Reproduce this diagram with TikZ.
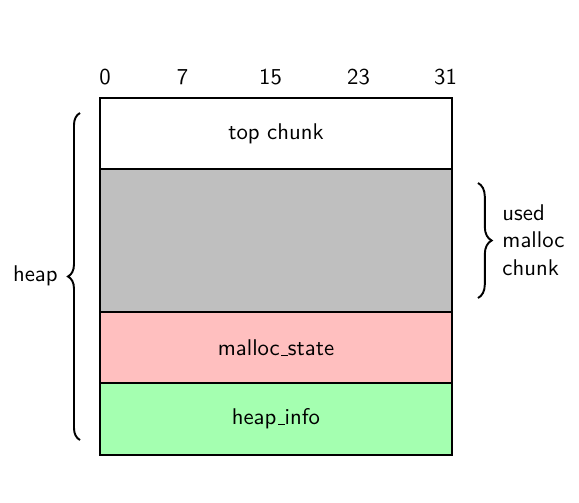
\documentclass[tikz,border=0pt]{standalone}
\usetikzlibrary{decorations.pathreplacing}
\definecolor{usedgray}{RGB}{191,191,191}
\definecolor{statepink}{RGB}{255,191,191}
\definecolor{infogreen}{RGB}{164,255,176}
\newcommand\lowus{\leavevmode\kern.06em\vbox{\hrule width.3em}}
\tikzset{
  row/.style={draw=black, line width=0.55pt},
  rowlabel/.style={font=\sffamily, inner sep=0pt},
  bitlabel/.style={font=\sffamily, inner sep=0pt},
  bracestyle/.style={draw=black, line width=0.85pt, decorate},
}
\begin{document}
\begin{tikzpicture}[x=0.44pt,y=-0.44pt]
\useasboundingbox (0,0) rectangle (579,502);
% rows
\filldraw[row, fill=white] (100,98) rectangle (452,169);
\filldraw[row, fill=usedgray] (100,169) rectangle (452,312);
\filldraw[row, fill=statepink] (100,312) rectangle (452,383);
\filldraw[row, fill=infogreen] (100,383) rectangle (452,455);
\node[rowlabel] (top) at (276,133.5) {top chunk};
\node[rowlabel] (state) at (276,348) {malloc\lowus state};
\node[rowlabel] (info) at (276,419) {heap\lowus info};
% bit labels
\node[bitlabel] (b0) at (105,77) {0};
\node[bitlabel] (b7) at (182.5,77) {7};
\node[bitlabel] (b15) at (270.5,77) {15};
\node[bitlabel] (b23) at (358.5,77) {23};
\node[bitlabel] (b31) at (445.5,77) {31};
% braces
\coordinate (hb) at (80,440);
\coordinate (ht) at (80,113);
\draw[bracestyle, decoration={brace, amplitude=5.3pt}] (hb) -- (ht);
\node[rowlabel, anchor=east] (heap) at (58,276) {heap};
\coordinate (ut) at (478,183);
\coordinate (ub) at (478,298);
\draw[bracestyle, decoration={brace, amplitude=6pt}] (ut) -- (ub);
\node[rowlabel, anchor=west, align=left] (used) at (502,240) {used\\malloc\\chunk};
\end{tikzpicture}
\end{document}
